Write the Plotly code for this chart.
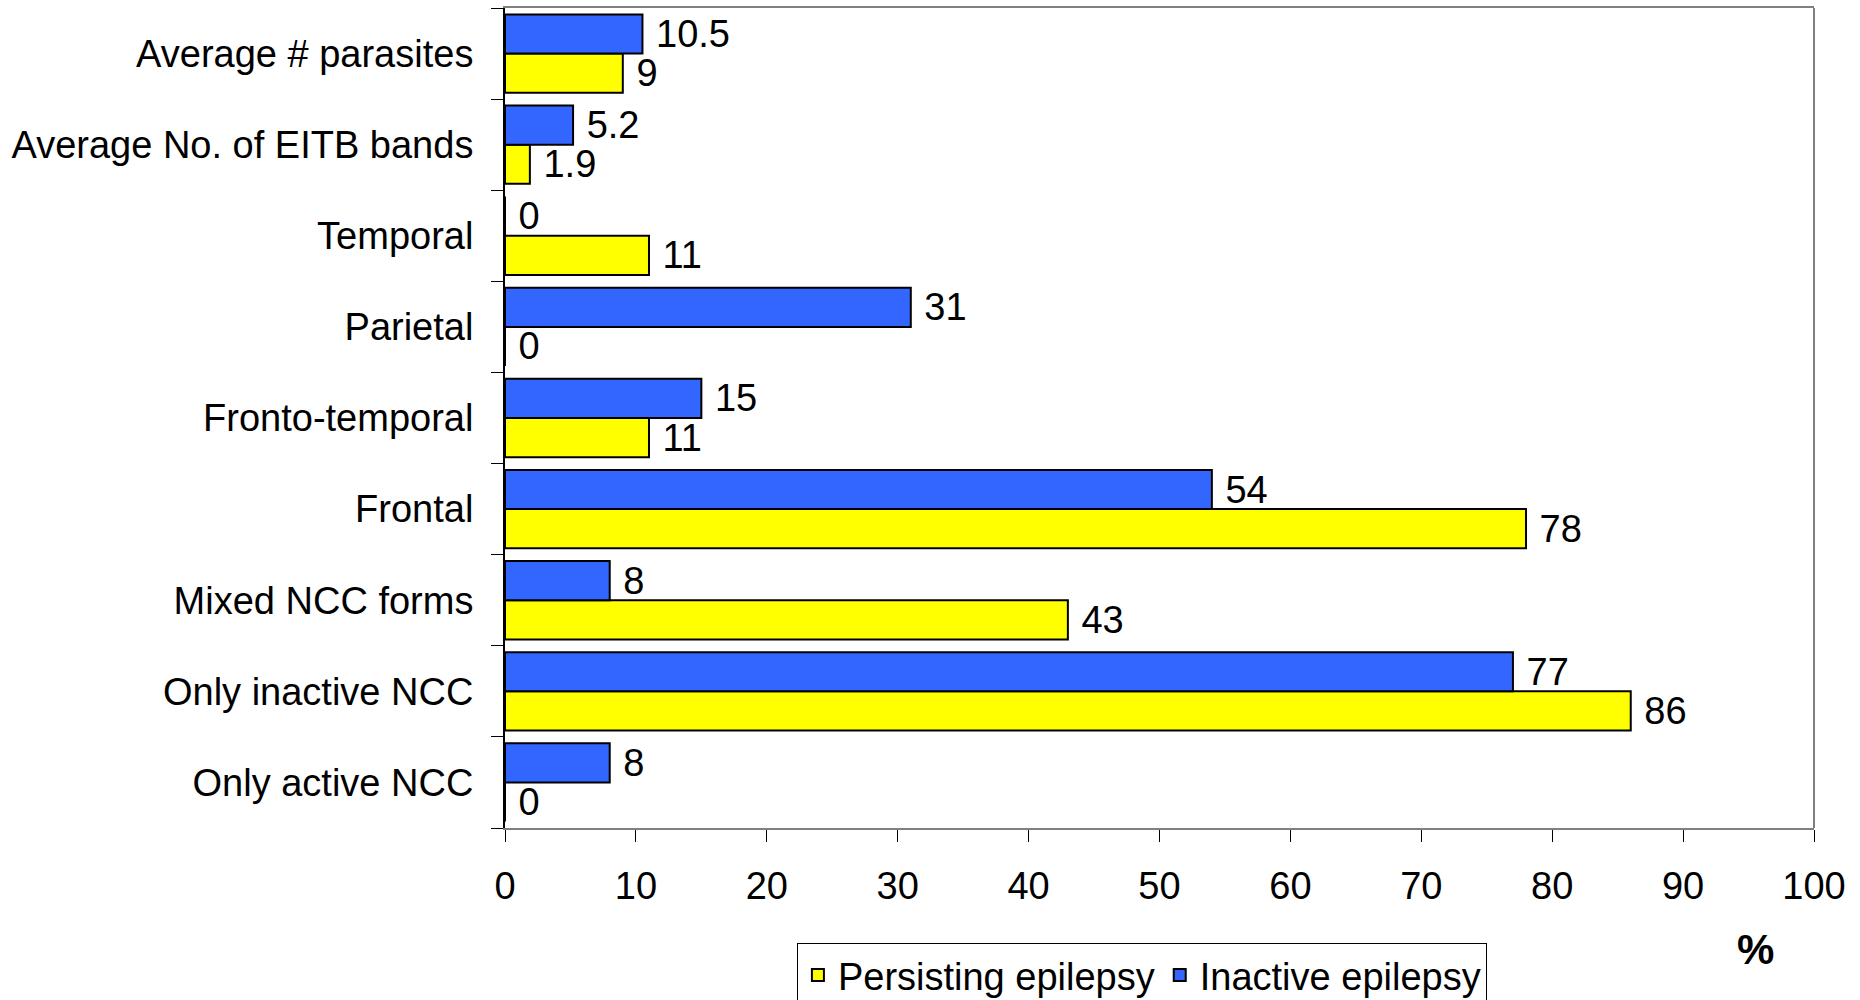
import plotly.graph_objects as go

categories = ["Only active NCC", "Only inactive NCC", "Mixed NCC forms", "Frontal",
              "Fronto-temporal", "Parietal", "Temporal", "Average No. of EITB bands",
              "Average # parasites"]
persisting = [0, 86, 43, 78, 11, 0, 11, 1.9, 9]
inactive = [8, 77, 8, 54, 15, 31, 0, 5.2, 10.5]
x_ticks = [0, 10, 20, 30, 40, 50, 60, 70, 80, 90, 100]

FONT = "Arial, Liberation Sans, sans-serif"
FS = 38

fig = go.Figure()
fig.add_trace(go.Bar(
    y=categories, x=persisting, orientation="h", name="Persisting epilepsy",
    marker=dict(color="#FFFF00", line=dict(color="black", width=2)),
    text=[f"{v:g}" for v in persisting], texttemplate="\u00a0%{text}",
    textposition="outside",
    textfont=dict(size=FS, color="black", family=FONT), cliponaxis=False,
))
fig.add_trace(go.Bar(
    y=categories, x=inactive, orientation="h", name="Inactive epilepsy",
    marker=dict(color="#3366FF", line=dict(color="black", width=2)),
    text=[f"{v:g}" for v in inactive], texttemplate="\u00a0%{text}",
    textposition="outside",
    textfont=dict(size=FS, color="black", family=FONT), cliponaxis=False,
))

fig.update_layout(
    width=1860, height=1000,
    margin=dict(l=505, r=46, t=8, b=172, autoexpand=False),
    barmode="group", bargap=0.14, bargroupgap=0,
    plot_bgcolor="white", paper_bgcolor="white",
    font=dict(family=FONT, size=FS, color="black"),
    uniformtext=dict(minsize=FS, mode="show"),
    xaxis=dict(range=[0, 100], tickvals=x_ticks, showgrid=False, zeroline=False,
               showline=True, linecolor="#808080", linewidth=2, mirror=True,
               ticks="outside", ticklen=12, tickcolor="black", tickwidth=1,
               tickfont=dict(size=FS), ticklabelstandoff=11, automargin=False),
    yaxis=dict(showgrid=False, zeroline=False, showline=True, linecolor="black",
               linewidth=2, ticks="outside", ticklen=12, tickcolor="black",
               tickson="boundaries", tickfont=dict(size=FS), ticklabelstandoff=22,
               automargin=False),
    legend=dict(orientation="h", x=0.223, y=-0.14, xanchor="left", yanchor="top",
                bordercolor="black", borderwidth=1, font=dict(size=FS),
                traceorder="normal", itemwidth=30),
    showlegend=True,
)
fig.add_shape(type="line", xref="paper", yref="paper", x0=1, x1=1, y0=0, y1=1,
              line=dict(color="#808080", width=2))
fig.add_annotation(text="<b>%</b>", xref="paper", yref="paper", x=0.955, y=-0.148,
                   xanchor="center", yanchor="middle", showarrow=False,
                   font=dict(size=42, color="black"))

fig.write_html("out.html")
